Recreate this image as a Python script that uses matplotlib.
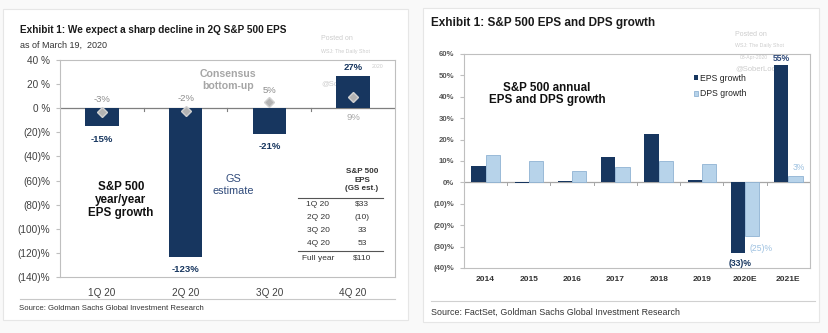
import matplotlib
matplotlib.use("Agg")
import matplotlib.pyplot as plt
from matplotlib.patches import Rectangle
from matplotlib.lines import Line2D

plt.rcParams['font.family'] = ['Liberation Sans', 'DejaVu Sans']

# ---------------- data ----------------
quarters = ["1Q 20", "2Q 20", "3Q 20", "4Q 20"]
gs_estimate = [-15, -123, -21, 27]
consensus = [-3, -2, 5, 9]
left_yticks = [40, 20, 0, -20, -40, -60, -80, -100, -120, -140]

table_rows = ["1Q 20", "2Q 20", "3Q 20", "4Q 20"]
table_vals = ["$33", "(10)", "33", "53"]
table_total = ("Full year", "$110")

years = ["2014", "2015", "2016", "2017", "2018", "2019", "2020E", "2021E"]
eps_growth = [7.5, -0.5, 0.7, 11.7, 22.4, 1.0, -33, 55]
dps_growth = [12.8, 9.9, 5.5, 7.1, 9.9, 8.4, -25, 3]
right_yticks = [60, 50, 40, 30, 20, 10, 0, -10, -20, -30, -40]

NAVY = "#17365f"
LIGHT = "#b7d3ea"
LIGHT_EDGE = "#8fb3d3"
GRAY_TXT = "#404040"
WM = "#cccccc"

W, H = 829, 333
fig = plt.figure(figsize=(W / 100, H / 100), dpi=100, facecolor="#f9f9f9")


def P(x, y):
    return x / W, 1 - y / H


def ftext(x, y, s, **kw):
    fx, fy = P(x, y)
    fig.text(fx, fy, s, **kw)


def fline(x0, x1, y, color="#bfbfbf", lw=0.8):
    a, b = P(x0, y)
    c, _ = P(x1, y)
    fig.add_artist(Line2D([a, c], [b, b], color=color, lw=lw, transform=fig.transFigure))


# panels
for (x0, y0, x1, y1) in [(3, 9, 408, 320), (423, 8, 819, 322)]:
    fx0, fy1 = P(x0, y1)
    fig.add_artist(Rectangle((fx0, fy1), (x1 - x0) / W, (y1 - y0) / H, transform=fig.transFigure,
                             facecolor="white", edgecolor="#e6e6e6", lw=0.8, zorder=-2))

# ---------------- left chart ----------------
axL = fig.add_axes([60 / W, 1 - 277 / H, 335 / W, 217 / H])
axL.set_facecolor("none")
axL.set_xlim(-0.5, 3.5)
axL.set_ylim(-140, 40)
xs = list(range(len(quarters)))
axL.bar(xs, gs_estimate, width=0.4, color=NAVY, zorder=3)
axL.plot(xs, consensus, linestyle="none", marker="D", markersize=5, color="#b3b3b3",
         markeredgecolor="#d0d0d0", zorder=4)
axL.axhline(0, color="#7f7f7f", lw=0.9, zorder=2)
for b in [0.5, 1.5, 2.5]:
    axL.plot([b, b], [0, -2.5], color="#7f7f7f", lw=0.8, zorder=2)
axL.set_yticks(left_yticks)
axL.set_yticklabels([f"{v} %" if v >= 0 else f"({-v})%" for v in left_yticks])
axL.set_xticks(xs)
axL.set_xticklabels(quarters)
axL.tick_params(axis="y", labelsize=7.2, colors=GRAY_TXT, length=3, color="#bfbfbf", pad=4)
axL.tick_params(axis="x", labelsize=7.2, colors=GRAY_TXT, length=0, pad=8)
for s in axL.spines.values():
    s.set_color("#bfbfbf")
    s.set_linewidth(0.8)

# value labels
for x, v in zip(xs, gs_estimate):
    if v < 0:
        axL.annotate(f"{v}%", (x, v), xytext=(0, -13), textcoords="offset pixels",
                     ha="center", va="center", fontsize=6.8, fontweight="bold", color=NAVY)
    else:
        axL.annotate(f"{v}%", (x, v), xytext=(0, 8), textcoords="offset pixels",
                     ha="center", va="center", fontsize=6.8, fontweight="bold", color=NAVY)
for x, v in zip(xs, consensus):
    if x < 3:
        axL.annotate(f"{v}%", (x, v), xytext=(0, 12), textcoords="offset pixels",
                     ha="center", va="center", fontsize=6.8, color="#8c8c8c")
    else:
        axL.annotate(f"{v}%", (x, 0), xytext=(0, -9), textcoords="offset pixels",
                     ha="center", va="center", fontsize=6.8, color="#a6a6a6")

ftext(20, 30, "Exhibit 1: We expect a sharp decline in 2Q S&P 500 EPS", fontsize=7.2,
      fontweight="bold", color="#1a1a1a", va="center")
ftext(20, 45, "as of March 19,  2020", fontsize=6.5, color="#333333", va="center")
ftext(228, 80, "Consensus\nbottom-up", fontsize=7.6, fontweight="bold", color="#a6a6a6",
      ha="center", va="center", linespacing=1.25)
ftext(121, 200, "S&P 500\nyear/year\nEPS growth", fontsize=8.4, fontweight="bold",
      color="#111111", ha="center", va="center", linespacing=1.15)
ftext(233, 185, "GS\nestimate", fontsize=7.8, color="#2f4a7a", ha="center", va="center",
      linespacing=1.2)

# table
ftext(362, 180, "S&P 500\nEPS\n(GS est.)", fontsize=5.8, fontweight="bold", color="#333333",
      ha="center", va="center", linespacing=1.25)
fline(298, 383, 198, color="#555555", lw=0.8)
for i, (r, v) in enumerate(zip(table_rows, table_vals)):
    y = 204 + i * 13.3
    ftext(318, y, r, fontsize=6.0, color="#333333", ha="center", va="center")
    ftext(362, y, v, fontsize=6.0, color="#333333", ha="center", va="center")
fline(298, 383, 251, color="#555555", lw=0.8)
ftext(318, 258, table_total[0], fontsize=6.0, color="#333333", ha="center", va="center")
ftext(362, 258, table_total[1], fontsize=6.0, color="#333333", ha="center", va="center")

# watermark left (behind the bars)
ftext(321, 38, "Posted on", fontsize=5.0, color=WM, va="center", zorder=-1)
ftext(321, 52, "WSJ: The Daily Shot", fontsize=3.8, color=WM, va="center", zorder=-1)
ftext(372, 66, "2020", fontsize=3.8, color=WM, va="center", zorder=-1)
ftext(321, 84, "@SoberLook", fontsize=5.5, color=WM, va="center", zorder=-1)

fline(20, 395, 299, color="#c8c8c8", lw=0.8)
ftext(19, 309, "Source: Goldman Sachs Global Investment Research", fontsize=5.6,
      color="#333333", va="center")

# ---------------- right chart ----------------
axR = fig.add_axes([464 / W, 1 - 268 / H, 346 / W, 214 / H])
axR.set_facecolor("none")
axR.set_xlim(-0.5, 7.5)
axR.set_ylim(-40, 60)
xr = list(range(len(years)))
bw = 0.33
axR.bar([x - bw / 2 for x in xr], eps_growth, width=bw, color=NAVY, zorder=3,
        label="EPS growth")
axR.bar([x + bw / 2 for x in xr], dps_growth, width=bw, color=LIGHT, edgecolor=LIGHT_EDGE,
        linewidth=0.6, zorder=3, label="DPS growth")
axR.axhline(0, color="#a6a6a6", lw=0.9, zorder=2)
for b in [0.5 + i for i in range(7)]:
    axR.plot([b, b], [0, -1], color="#a6a6a6", lw=0.7, zorder=2)
axR.set_yticks(right_yticks)
axR.set_yticklabels([f"{v}%" if v >= 0 else f"({-v})%" for v in right_yticks])
axR.set_xticks(xr)
axR.set_xticklabels(years)
axR.tick_params(axis="y", labelsize=5.6, colors="#555555", length=3, color="#bfbfbf", pad=4)
axR.tick_params(axis="x", labelsize=6.0, colors="#333333", length=0, pad=6)
for lab in axR.get_yticklabels() + axR.get_xticklabels():
    lab.set_fontweight("bold")
for s in axR.spines.values():
    s.set_color("#bfbfbf")
    s.set_linewidth(0.8)

axR.annotate(f"{eps_growth[7]:.0f}%", (7 - bw / 2, eps_growth[7]), xytext=(0, 6),
             textcoords="offset pixels", ha="center", va="center", fontsize=6.2,
             fontweight="bold", color="#2f4a7a")
axR.annotate(f"{dps_growth[7]:.0f}%", (7 + bw / 2, dps_growth[7]), xytext=(3, 8),
             textcoords="offset pixels", ha="center", va="center", fontsize=6.2,
             color="#9cc0e0")
axR.annotate(f"({-dps_growth[6]:.0f})%", (6 + bw / 2, dps_growth[6]), xytext=(9, -13),
             textcoords="offset pixels", ha="center", va="center", fontsize=6.2,
             color="#9cc0e0")
axR.annotate(f"({-eps_growth[6]:.0f})%", (6 - bw / 2, eps_growth[6]), xytext=(2, -10),
             textcoords="offset pixels", ha="center", va="center", fontsize=6.2,
             fontweight="bold", color=NAVY)

leg = axR.legend(loc="upper left", bbox_to_anchor=((694 - 464) / 346, (268 - 74) / 214),
                 frameon=False, fontsize=6.2, handlelength=0.5, handleheight=0.5,
                 handletextpad=0.2, labelspacing=0.75, borderaxespad=0, borderpad=0)
for t in leg.get_texts():
    t.set_color("#222222")

ftext(547, 94, "S&P 500 annual\nEPS and DPS growth", fontsize=8.4, fontweight="bold",
      color="#111111", ha="center", va="center", linespacing=1.1)
ftext(431, 23, "Exhibit 1: S&P 500 EPS and DPS growth", fontsize=8.5, fontweight="bold",
      color="#1a1a1a", va="center")

# watermark right (behind the bars)
ftext(735, 34, "Posted on", fontsize=5.0, color=WM, va="center", zorder=-1)
ftext(735, 46, "WSJ: The Daily Shot", fontsize=3.8, color=WM, va="center", zorder=-1)
ftext(740, 57, "03-Apr-2020", fontsize=3.6, color=WM, va="center", zorder=-1)
ftext(735, 69, "@SoberLook", fontsize=5.5, color=WM, va="center", zorder=-1)

fline(431, 815, 301, color="#d0d0d0", lw=0.8)
ftext(431, 312, "Source: FactSet, Goldman Sachs Global Investment Research", fontsize=6.4,
      color="#333333", va="center")

fig.savefig("out.png", dpi=100, facecolor=fig.get_facecolor())
